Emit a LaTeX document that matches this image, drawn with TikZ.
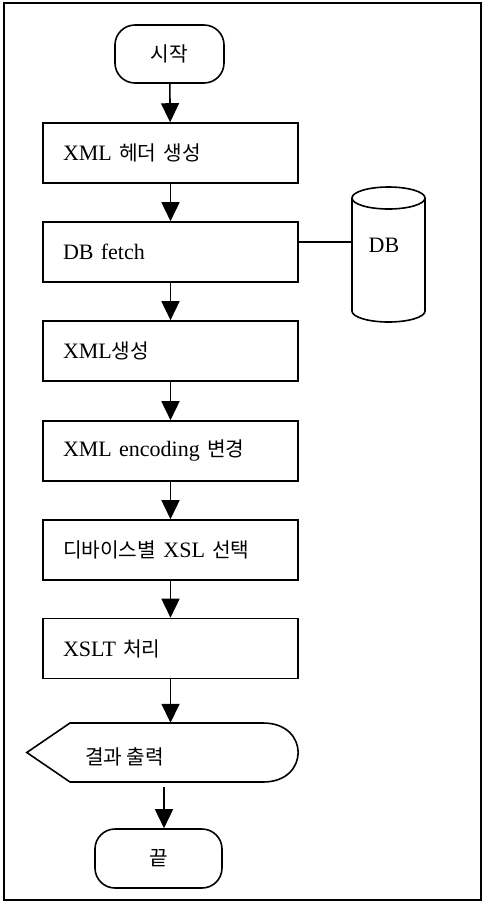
\documentclass[tikz,border=0pt]{standalone}
\usepackage{fontspec}
\setmainfont{Liberation Serif}
\newfontfamily\kr[Scale=0.92]{Noto Sans CJK KR}
\usetikzlibrary{arrows.meta}

\tikzset{
  base/.style={line width=1.6pt, draw=black},
  procbox/.style={base, rectangle, minimum width=255pt, minimum height=60pt,
    text width=215pt, align=left, inner xsep=20pt, inner ysep=0pt},
  term/.style={base, rectangle, rounded corners=20pt, inner sep=0pt},
  arr/.style={line width=1.6pt, -{Triangle[length=19pt,width=18pt]}},
}

\begin{document}
\begin{tikzpicture}[x=1pt, y=-1pt, font=\fontsize{22}{26}\selectfont]
\useasboundingbox (0,0) rectangle (483,903);
% outer frame
\draw[line width=1.6pt] (4,3) rectangle (481,900);

% terminals
\node[term, minimum width=109pt, minimum height=58pt] (start) at (169.5,54) {\kr 시작};
\node[term, minimum width=127pt, minimum height=59pt] (e) at (158.5,858.5) {\kr 끝};

% process steps
\node[procbox] (b1) at (170.5,153)   {XML {\kr 헤더 생성}};
\node[procbox] (b2) at (170.5,252)   {DB fetch};
\node[procbox] (b3) at (170.5,351)   {XML{\kr 생성}};
\node[procbox] (b4) at (170.5,451)   {XML encoding {\kr 변경}};
\node[procbox] (b5) at (170.5,550)   {{\kr 디바이스별} XSL {\kr 선택}};
\node[procbox] (b6) at (170.5,648.5) {XSLT {\kr 처리}};

% display (output) symbol
\node[inner sep=0pt, minimum width=271pt, minimum height=59pt] (out) at (162.5,752.5) {};
\draw[base] (out.west) -- (70,723) -- (263,723)
  .. controls (287,723) and (298,738) .. (out.east)
  .. controls (298,767) and (287,782) .. (263,782) -- (70,782) -- cycle;
\node[anchor=west, inner sep=0pt] (outtxt) at (85,757) {\kr 결과 출력};

% database cylinder
\node[inner sep=0pt, minimum width=73pt, minimum height=135pt] (db) at (388.5,254.5) {};
\draw[base] (db.center |- 0,198) ellipse [x radius=36.5pt, y radius=11pt];
\draw[base] (352,198) -- (352,311)
  arc[start angle=180, end angle=360, x radius=36.5pt, y radius=11pt]
  -- (425,198);
\node[inner sep=0pt] (dbt) at (384,245) {DB};

% connectors
\draw[arr] (start) -- (b1);
\draw[arr] (b1) -- (b2);
\draw[arr] (b2) -- (b3);
\draw[arr] (b3) -- (b4);
\draw[arr] (b4) -- (b5);
\draw[arr] (b5) -- (b6);
\draw[arr] (b6.south) -- (b6.south |- out.north);
\draw[arr] ([xshift=1.5pt,yshift=-5pt]out.south) -- ([xshift=1.5pt]out.south |- e.north);
\draw[line width=1.3pt] ([yshift=10pt]b2.east) -- ([yshift=10pt]b2.east -| db.west);
\end{tikzpicture}
\end{document}
